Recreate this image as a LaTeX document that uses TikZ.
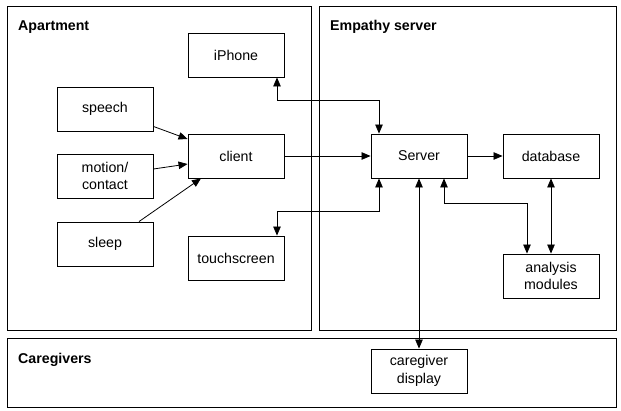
\documentclass[tikz,border=0pt]{standalone}
\usepackage{fontspec}
\setmainfont{Liberation Sans}
\usetikzlibrary{arrows.meta,calc}
\begin{document}
\begin{tikzpicture}[x=1pt,y=-1pt,
  box/.style={draw,line width=0.9pt,minimum width=96pt,minimum height=44pt,inner sep=1pt,align=center,font=\fontsize{14.2}{17.5}\selectfont},
  region/.style={draw,line width=0.9pt},
  title/.style={anchor=base west,inner sep=0pt,font=\bfseries\fontsize{14.2}{17}\selectfont},
  conn/.style={line width=0.8pt,-{Triangle[length=9pt,width=7.5pt]}},
  biconn/.style={line width=0.8pt,{Triangle[length=9pt,width=7.5pt]}-{Triangle[length=9pt,width=7.5pt]}}]
\useasboundingbox (0,0) rectangle (621,410);
\draw[region] (7,6) rectangle (311,330);
\draw[region] (319,6) rectangle (616,330);
\draw[region] (7,338) rectangle (616,407);
\node[title] (tapt) at (18,30.5) {Apartment};
\node[title] (temp) at (330,30.5) {Empathy server};
\node[title] (tcare) at (18,363) {Caregivers};
\node[box] (iphone) at (236,55) {iPhone};
\node[box] (speech) at (105,109) {speech};
\node[box] (client) at (236,156) {client};
\node[box] (motion) at (105,176) {motion/\\contact};
\node[box] (sleep) at (105,244) {sleep};
\node[box] (touch) at (236,258) {touchscreen};
\node[box] (server) at (419,156) {Server};
\node[box] (db) at (551,156) {database};
\node[box] (analysis) at (551,276) {analysis\\modules};
\node[box] (care) at (419,371) {caregiver\\display};
\draw[conn] ($(speech.south east)+(0,-5)$) -- (client.west |- 0,139);
\draw[conn] ($(motion.east)+(0,-7)$) -- (client.west |- 0,164);
\draw[conn] ($(sleep.north)+(34,0)$) -- ($(client.south)+(-35,0)$);
\draw[conn] (client.east) -- (server.west);
\draw[conn] (server.east) -- (db.west);
\draw[biconn] ($(iphone.south)+(41,0)$) |- (379,100) -- (server.north -| 379,0);
\draw[biconn] ($(touch.north)+(41,0)$) |- (379,211) -- (server.south -| 379,0);
\draw[biconn] (server.south) -- (care.north);
\draw[biconn] ($(server.south)+(25,0)$) |- (527,203) -- (analysis.north -| 527,0);
\draw[biconn] (db.south) -- (analysis.north);
\end{tikzpicture}
\end{document}
